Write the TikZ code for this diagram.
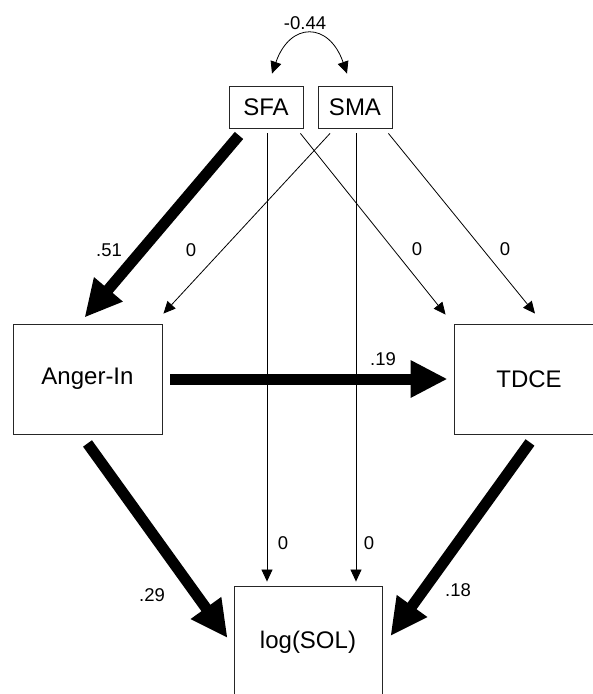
\documentclass[tikz,border=0pt]{standalone}
\usepackage{fontspec}
\setmainfont{Liberation Sans}
\usepackage{tikz}
\usetikzlibrary{arrows.meta}
\usetikzlibrary{calc}

\begin{document}
\begin{tikzpicture}[x=1pt, y=-1pt,
  box/.style={draw=black!85, line width=0.9pt, inner sep=0pt, font=\fontsize{24}{28}\selectfont},
  lbl/.style={inner sep=0pt, font=\fontsize{18.5}{22}\selectfont},
  thin/.style={line width=0.8pt, -{Triangle[length=12pt, width=11pt]}},
  thick/.style={line width=11pt, -{Triangle[length=37pt, width=35pt]}}]
\useasboundingbox (0,0) rectangle (593,694);
\node[box, minimum width=74, minimum height=42] (sfa) at (266,107) {SFA};
\node[box, minimum width=74, minimum height=42] (sma) at (355,107) {SMA};
\node[box, minimum width=149, minimum height=110] (anger) at (87.5,379) {Anger-In};
\node[box, minimum width=150, minimum height=110] (tdce) at (529,379) {TDCE};
\node[box, minimum width=148, minimum height=112] (sol) at (308,642) {log(SOL)};
\draw[line width=0.8pt, {Triangle[length=12pt, width=11pt]}-{Triangle[length=12pt, width=11pt]}]
  ($(sfa.north)+(6,-12)$) .. controls +(18,-52) and +(-18,-52) .. ($(sma.north)+(-8,-12)$);
\node[lbl] (cov) at (305,23) {-0.44};
\draw[thick] ($(sfa.south)+(-27,7)$) -- ($(anger.north)+(-3,-6)$);
\node[lbl] (a1) at (109,250) {.51};
\draw[thin] ($(sma.south)+(-25,5)$) -- ($(anger.north east)+(1,-10)$);
\node[lbl] (a2) at (191,250) {0};
\draw[thin] ($(sfa.south east)+(-3,5)$) -- ($(tdce.north west)+(-8,-9)$);
\node[lbl] (b1) at (417,249) {0};
\draw[thin] ($(sma.south east)+(-4,5)$) -- ($(tdce.north)+(6,-10)$);
\node[lbl] (b2) at (505,249) {0};
\draw[thin] ($(sfa.south)+(1,5)$) -- ($(sfa.south |- sol.north)+(1,-4)$);
\node[lbl] (c1) at (283,543) {0};
\draw[thin] ($(sma.south)+(1,5)$) -- ($(sma.south |- sol.north)+(1,-4)$);
\node[lbl] (c2) at (369,543) {0};
\draw[thick] ($(anger.east)+(8,0)$) -- ($(tdce.west)+(-6,0)$);
\node[lbl] (ab) at (383,359) {.19};
\draw[thick] ($(anger.south)+(0,9)$) -- ($(sol.west)+(-6,-4)$);
\node[lbl] (as) at (152,595) {.29};
\draw[thick] ($(tdce.south)+(1,8)$) -- ($(sol.east)+(8,-6)$);
\node[lbl] (ts) at (458,590) {.18};
\end{tikzpicture}
\end{document}
